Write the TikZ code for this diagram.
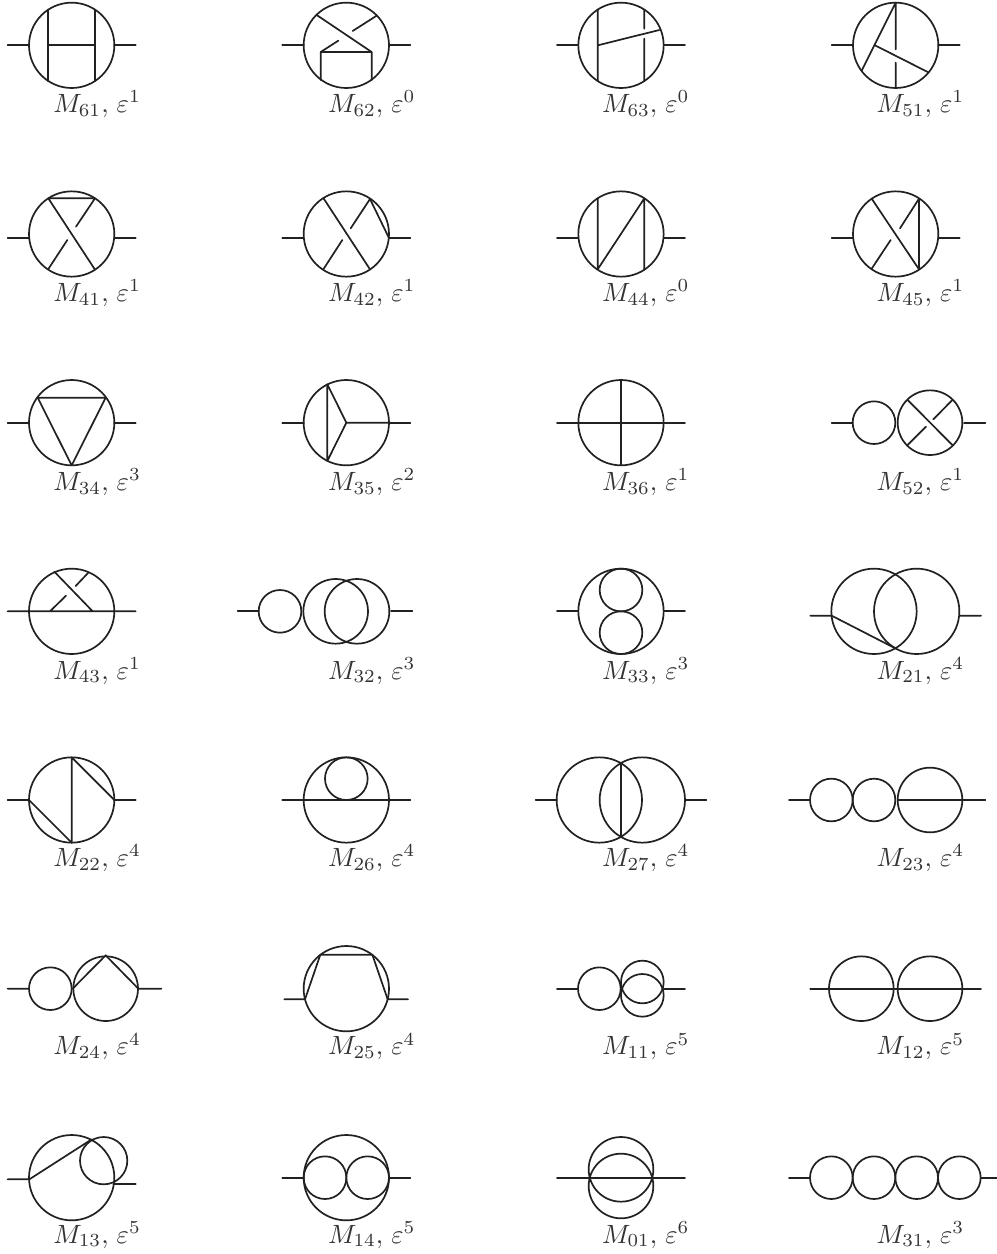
\documentclass[tikz,border=0pt]{standalone}
\tikzset{
  dia/.style={line width=1.7bp,draw=inkc,line cap=round,line join=round},
  lab/.style={anchor=base west,inner sep=0pt,outer sep=0pt,scale=2.65,text=textc},
}
\definecolor{inkc}{gray}{0.13}
\definecolor{textc}{gray}{0.2}
\newcommand\lbl[4]{\node[lab] (m#1) at (#2,#3) {$M_{#1},\mkern2.5mu\varepsilon^{#4}$};}
\newcommand\legs[1][0]{\draw[dia] (-192,#1)--(-128,#1) (128,#1)--(192,#1);}
\newcommand\cir[3]{\draw[dia] (#1,#2) circle[radius=#3];}
\begin{document}
\begin{tikzpicture}[x=0.33333bp,y=-0.33333bp]
\useasboundingbox (0,0) rectangle (2991,3762);
% ---------- row 1
\begin{scope}[shift={(215,136)}]
\cir{0}{0}{128}\legs
\draw[dia] (-70,-107)--(-70,107) (70,-107)--(70,107) (-70,0)--(70,0);
\end{scope}
\begin{scope}[shift={(1039,136)}]
\cir{0}{0}{128}\legs
\draw[dia] (-89,-91)--(76,20)--(-77,20)--(-77,104) (76,20)--(76,104);
\draw[dia] (-77,20)--(-24,-14) (19,-43)--(91,-89);
\end{scope}
\begin{scope}[shift={(1863,136)}]
\cir{0}{0}{128}\legs
\draw[dia] (-70,-107)--(-70,107) (70,-107)--(70,-50) (70,-20)--(70,107) (-70,0)--(115,-46);
\end{scope}
\begin{scope}[shift={(2687,136)}]
\cir{0}{0}{128}\legs
\draw[dia] (0,-128)--(0,12) (0,52)--(0,128) (0,-128)--(-102,76) (-62,0)--(98,81);
\end{scope}
% ---------- row 2
\begin{scope}[shift={(215,702)}]
\cir{0}{0}{128}\legs[13]
\draw[dia] (-70,-107)--(70,-107) (-70,-107)--(70,107) (70,-107)--(13,-22) (-13,18)--(-70,105);
\end{scope}
\begin{scope}[shift={(1039,702)}]
\cir{0}{0}{128}\legs[13]
\draw[dia] (-69,-108)--(71,106) (13,-17)--(71,-105)--(127,10) (-12,18)--(-69,106);
\end{scope}
\begin{scope}[shift={(1863,702)}]
\cir{0}{0}{128}\legs[13]
\draw[dia] (-70,-107)--(-70,106)--(70,-107)--(70,107);
\end{scope}
\begin{scope}[shift={(2687,702)}]
\cir{0}{0}{128}\legs[13]
\draw[dia] (-72,-106)--(70,106)--(70,-106)--(13,-17) (-15,18)--(-72,104);
\end{scope}
% ---------- row 3
\begin{scope}[shift={(215,1268)}]
\cir{0}{0}{128}\legs
\draw[dia] (-102,-75)--(102,-75)--(0,128)--cycle;
\end{scope}
\begin{scope}[shift={(1039,1268)}]
\cir{0}{0}{128}\legs
\draw[dia] (-57,-115)--(-57,115)--(0,0)--cycle (0,0)--(128,0);
\end{scope}
\begin{scope}[shift={(1863,1268)}]
\cir{0}{0}{128}
\draw[dia] (-192,0)--(192,0) (0,-128)--(0,128);
\end{scope}
\begin{scope}[shift={(2687,1268)}]
\cir{-65}{0}{64}\cir{103}{0}{97}
\draw[dia] (-192,0)--(-129,0) (205,0)--(269,0);
\draw[dia] (36,-68)--(170,67) (170,-68)--(113,-10) (91,12)--(36,67);
\end{scope}
% ---------- row 4
\begin{scope}[shift={(215,1834)}]
\cir{0}{0}{128}
\draw[dia] (-192,0)--(192,0) (-52,-119)--(63,0) (50,-116)--(12,-76) (-17,-47)--(-65,0);
\end{scope}
\begin{scope}[shift={(1039,1834)}]
\cir{-199}{0}{64}\cir{-32}{0}{97}\cir{32}{0}{97}
\draw[dia] (-326,0)--(-263,0) (134,0)--(198,0);
\end{scope}
\begin{scope}[shift={(1863,1834)}]
\cir{0}{0}{128}\cir{0}{-64}{64}\cir{0}{64}{64}\legs
\end{scope}
\begin{scope}[shift={(2687,1834)}]
\cir{-65}{0}{128}\cir{63}{0}{128}
\draw[dia] (-256,13)--(-192,13)--(-1,111) (192,13)--(256,13);
\end{scope}
% ---------- row 5
\begin{scope}[shift={(215,2400)}]
\cir{0}{0}{128}\legs
\draw[dia] (-128,0)--(0,128)--(0,-128)--(128,0);
\end{scope}
\begin{scope}[shift={(1039,2400)}]
\cir{0}{0}{128}\cir{0}{-64}{64}
\draw[dia] (-192,0)--(192,0);
\end{scope}
\begin{scope}[shift={(1863,2400)}]
\cir{-65}{0}{128}\cir{64}{0}{128}
\draw[dia] (-256,0)--(-193,0) (192,0)--(256,0) (0,-110)--(0,110);
\end{scope}
\begin{scope}[shift={(2687,2400)}]
\cir{-193}{0}{64}\cir{-65}{0}{64}\cir{103}{0}{97}
\draw[dia] (-320,0)--(-257,0) (6,0)--(269,0);
\end{scope}
% ---------- row 6
\begin{scope}[shift={(215,2966)}]
\cir{-64}{0}{64}\cir{102}{0}{97}
\draw[dia] (-192,0)--(-128,0) (200,0)--(269,0) (3,0)--(102,-100)--(200,0);
\end{scope}
\begin{scope}[shift={(1039,2966)}]
\cir{0}{0}{128}
\draw[dia] (-186,32)--(-124,32)--(-78,-102)--(78,-102)--(124,32)--(185,32);
\end{scope}
\begin{scope}[shift={(1863,2966)}]
\cir{-65}{0}{64}\cir{64}{-20}{64}\cir{64}{20}{64}
\draw[dia] (-192,0)--(-129,0) (128,0)--(192,0);
\end{scope}
\begin{scope}[shift={(2687,2966)}]
\cir{-103}{0}{97}\cir{103}{0}{97}
\draw[dia] (-256,0)--(256,0);
\end{scope}
% ---------- row 7
\begin{scope}[shift={(215,3533)}]
\cir{0}{0}{128}\cir{96}{-51}{71}
\draw[dia] (-192,5)--(-127,5)--(60,-115) (125,19)--(192,19);
\end{scope}
\begin{scope}[shift={(1039,3533)}]
\cir{0}{0}{128}\cir{-64}{0}{64}\cir{64}{0}{64}\legs
\end{scope}
\begin{scope}[shift={(1863,3533)}]
\cir{0}{-25}{97}\cir{0}{25}{97}
\draw[dia] (-192,0)--(192,0);
\end{scope}
\begin{scope}[shift={(2687,3533)}]
\cir{-193}{0}{64}\cir{-65}{0}{64}\cir{63}{0}{64}\cir{191}{0}{64}
\draw[dia] (-320,0)--(-257,0) (255,0)--(303,0);
\end{scope}
% ---------- labels
\lbl{61}{160}{337}{1}\lbl{62}{984}{337}{0}\lbl{63}{1806}{337}{0}\lbl{51}{2630}{337}{1}
\lbl{41}{160}{904}{1}\lbl{42}{984}{904}{1}\lbl{44}{1806}{904}{0}\lbl{45}{2630}{904}{1}
\lbl{34}{160}{1471}{3}\lbl{35}{984}{1471}{2}\lbl{36}{1806}{1471}{1}\lbl{52}{2630}{1471}{1}
\lbl{43}{160}{2037}{1}\lbl{32}{984}{2037}{3}\lbl{33}{1806}{2037}{3}\lbl{21}{2630}{2037}{4}
\lbl{22}{160}{2599}{4}\lbl{26}{984}{2599}{4}\lbl{27}{1806}{2599}{4}\lbl{23}{2630}{2599}{4}
\lbl{24}{160}{3164}{4}\lbl{25}{984}{3164}{4}\lbl{11}{1806}{3164}{5}\lbl{12}{2630}{3164}{5}
\lbl{13}{160}{3729}{5}\lbl{14}{984}{3729}{5}\lbl{01}{1806}{3729}{6}\lbl{31}{2630}{3729}{3}
\end{tikzpicture}
\end{document}
